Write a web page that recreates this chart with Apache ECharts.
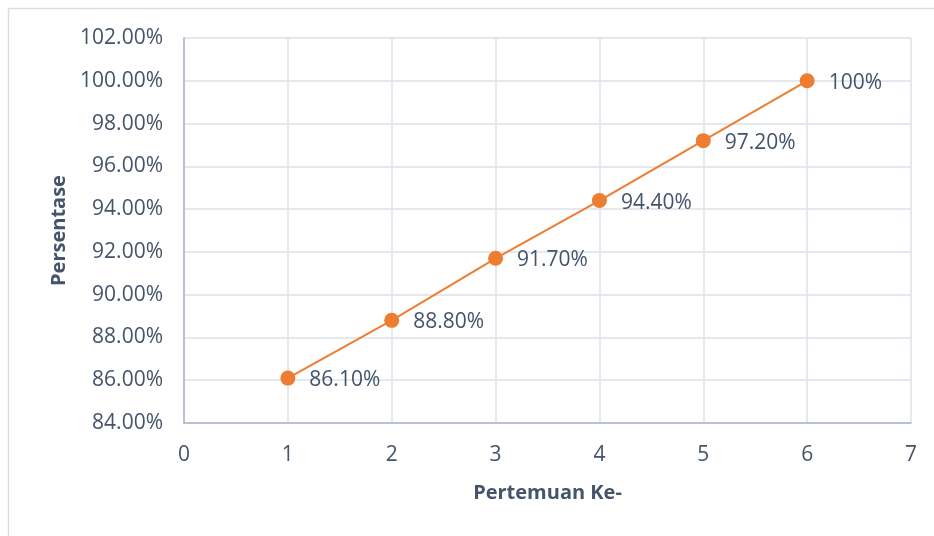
<!DOCTYPE html>
<html><head><meta charset="utf-8">
<script src="https://cdn.jsdelivr.net/npm/echarts@6/dist/echarts.min.js"></script>
<style>html,body{margin:0;padding:0;background:#fff}#c{width:934px;height:536px}</style>
</head><body><div id="c"></div>
<script>
const meetings = [1, 2, 3, 4, 5, 6];
const percentValues = [86.1, 88.8, 91.7, 94.4, 97.2, 100];
const pointLabels = ['86.10%', '88.80%', '91.70%', '94.40%', '97.20%', '100%'];
const yTicks = {min: 84, max: 102, step: 2};
const xTicks = {min: 0, max: 7, step: 1};
const xName = 'Pertemuan Ke-';
const yName = 'Persentase';

const txt = '#44546a';
const font = '"Open Sans", "Noto Sans", sans-serif';
const chart = echarts.init(document.getElementById('c'), null, {renderer: 'canvas'});
chart.setOption({
  animation: false,
  backgroundColor: '#fff',
  graphic: [{type: 'rect', shape: {x: 8.5, y: 8.5, width: 940, height: 540}, style: {fill: 'none', stroke: '#d9dde3', lineWidth: 1.5}, silent: true}],
  grid: {left: 184, right: 23, top: 38, bottom: 113},
  xAxis: {
    type: 'value', min: xTicks.min, max: xTicks.max, interval: xTicks.step,
    name: xName, nameLocation: 'middle', nameGap: 60,
    nameTextStyle: {color: txt, fontFamily: font, fontWeight: 'bold', fontSize: 20},
    axisLine: {show: true, lineStyle: {color: '#abb5c6', width: 1.5}},
    axisTick: {show: false},
    splitLine: {show: true, lineStyle: {color: '#dde2ea', width: 1.5}},
    axisLabel: {color: txt, fontFamily: font, fontSize: 21, margin: 22}
  },
  yAxis: {
    type: 'value', min: yTicks.min, max: yTicks.max, interval: yTicks.step,
    name: yName, nameLocation: 'middle', nameGap: 114, nameRotate: 90,
    nameTextStyle: {color: txt, fontFamily: font, fontWeight: 'bold', fontSize: 20},
    axisLine: {show: true, lineStyle: {color: '#abb5c6', width: 1.5}},
    axisTick: {show: false},
    splitLine: {show: true, lineStyle: {color: '#dde2ea', width: 1.5}},
    axisLabel: {color: txt, fontFamily: font, fontSize: 21, margin: 21,
      formatter: v => v.toFixed(2) + '%'}
  },
  series: [{
    type: 'line',
    data: meetings.map((m, i) => [m, percentValues[i]]),
    symbol: 'circle', symbolSize: 15,
    lineStyle: {color: '#ed7d31', width: 2},
    itemStyle: {color: '#ed7d31'},
    label: {show: true, position: 'right', distance: 14, offset: [0, 2], color: txt, fontFamily: font, fontSize: 21,
      formatter: p => pointLabels[p.dataIndex]}
  }]
});
</script></body></html>
